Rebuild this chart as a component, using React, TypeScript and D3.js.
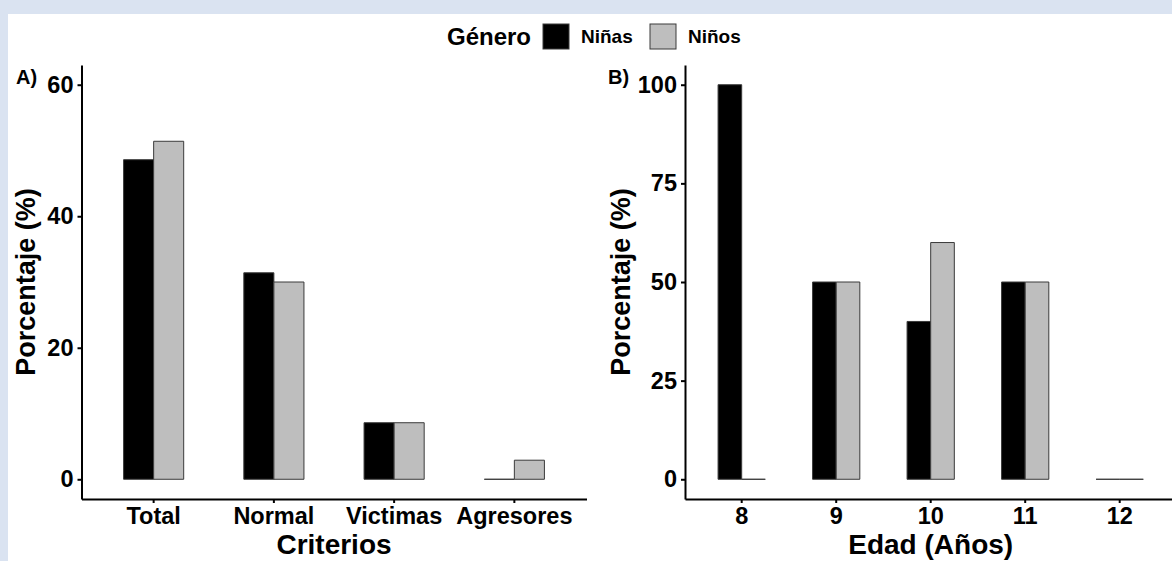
import { useEffect, useRef } from 'react';
import * as d3 from 'd3';

// panel A: criterios
const criterios = ['Total', 'Normal', 'Victimas', 'Agresores'];
const ninasCriterios = [48.6, 31.4, 8.6, 0];
const ninosCriterios = [51.4, 30.0, 8.6, 2.9];
const ticksA = [0, 20, 40, 60];

// panel B: edad
const edades = ['8', '9', '10', '11', '12'];
const ninasEdad = [100, 50, 40, 50, 0];
const ninosEdad = [0, 50, 60, 50, 0];
const ticksB = [0, 25, 50, 75, 100];

const series = ['Niñas', 'Niños'];
const fills = ['#000000', '#bebebe'];

const FONT = "'Liberation Sans', Arial, sans-serif";

interface PanelOpts {
  left: number
  right: number
  cats: string[]
  values: number[][]
  yDomain: [number, number]
  ticks: number[]
  tag: string
  tagX: number
  titleX: string
  titleY: string
  titleYX: number
}

const App = (): JSX.Element => {
  const svgRef = useRef<SVGSVGElement>(null);

  useEffect(() => {
    const width = 1172;
    const height = 561;
    const top = 65;
    const bottom = 499;

    const svg = d3.select(svgRef.current);
    svg.selectAll('*').remove();

    svg.append('rect').attr('width', width).attr('height', height).attr('fill', '#dae3f1');
    svg.append('rect').attr('x', 8).attr('y', 14).attr('width', width - 8).attr('height', height - 14).attr('fill', '#ffffff');

    const drawPanel = (o: PanelOpts) => {
      const g = svg.append('g');

      const x = d3.scaleBand<string>()
        .domain(o.cats)
        .range([o.left, o.right])
        .paddingInner(0)
        .paddingOuter(0.1);
      const y = d3.scaleLinear().domain(o.yDomain).range([bottom, top]);

      const barW = x.bandwidth() * 0.25;

      // paths instead of rects so zero-height bars still show their outline
      o.values.forEach((vals, si) => {
        g.selectAll(`path.s${si}`)
          .data(vals)
          .enter()
          .append('path')
          .attr('d', (d, i) => {
            const x0 = (x(o.cats[i]) as number) + x.bandwidth() / 2 - barW + si * barW;
            const p = d3.path();
            p.rect(x0, y(d), barW, y(0) - y(d));
            return p.toString();
          })
          .attr('fill', fills[si])
          .attr('stroke', '#3a3a3a')
          .attr('stroke-width', 1);
      });

      const yAxis = g.append('g')
        .attr('transform', `translate(${o.left},0)`)
        .call(d3.axisLeft(y).tickValues(o.ticks).tickSize(4).tickSizeOuter(0).tickPadding(4));
      const xAxis = g.append('g')
        .attr('transform', `translate(0,${bottom})`)
        .call(d3.axisBottom(x).tickSize(4).tickSizeOuter(0).tickPadding(4));

      [yAxis, xAxis].forEach(ax => {
        ax.select('.domain').attr('stroke', '#000').attr('stroke-width', 2);
        ax.selectAll('.tick line').attr('stroke', '#000').attr('stroke-width', 2);
        ax.selectAll('.tick text')
          .attr('fill', '#000')
          .style('font-family', FONT)
          .style('font-weight', 'bold')
          .style('font-size', '23.5px');
      });

      g.append('text')
        .attr('x', (o.left + o.right) / 2)
        .attr('y', 554)
        .attr('text-anchor', 'middle')
        .style('font-family', FONT)
        .style('font-weight', 'bold')
        .style('font-size', '28px')
        .text(o.titleX);

      g.append('text')
        .attr('transform', `translate(${o.titleYX},${(top + bottom) / 2}) rotate(-90)`)
        .attr('text-anchor', 'middle')
        .style('font-family', FONT)
        .style('font-weight', 'bold')
        .style('font-size', '27px')
        .text(o.titleY);

      g.append('text')
        .attr('x', o.tagX)
        .attr('y', 84)
        .style('font-family', FONT)
        .style('font-weight', 'bold')
        .style('font-size', '20px')
        .text(o.tag);
    };

    drawPanel({
      left: 81.5,
      right: 586.5,
      cats: criterios,
      values: [ninasCriterios, ninosCriterios],
      yDomain: [-3, 63],
      ticks: ticksA,
      tag: 'A)',
      tagX: 16,
      titleX: 'Criterios',
      titleY: 'Porcentaje (%)',
      titleYX: 35,
    });

    drawPanel({
      left: 685,
      right: 1176.4,
      cats: edades,
      values: [ninasEdad, ninosEdad],
      yDomain: [-5, 105],
      ticks: ticksB,
      tag: 'B)',
      tagX: 608,
      titleX: 'Edad (Años)',
      titleY: 'Porcentaje (%)',
      titleYX: 630,
    });

    // legend
    const legend = svg.append('g');
    legend.append('text')
      .attr('x', 447)
      .attr('y', 45)
      .style('font-family', FONT)
      .style('font-weight', 'bold')
      .style('font-size', '24px')
      .text('Género');

    const keyX = [543, 650];
    const labelX = [581, 688];
    series.forEach((s, i) => {
      legend.append('rect')
        .attr('x', keyX[i])
        .attr('y', 24)
        .attr('width', 26)
        .attr('height', 25)
        .attr('fill', fills[i])
        .attr('stroke', '#3a3a3a')
        .attr('stroke-width', 1);
      legend.append('text')
        .attr('x', labelX[i])
        .attr('y', 43)
        .style('font-family', FONT)
        .style('font-weight', 'bold')
        .style('font-size', '19px')
        .text(s);
    });

    return () => {
      svg.selectAll('*').remove();
    };
  }, []);

  return (
    <svg
      ref={svgRef}
      width={1172}
      height={561}
      style={{ position: 'absolute', left: 0, top: 0, display: 'block' }}
    />
  );
};

export default App;
